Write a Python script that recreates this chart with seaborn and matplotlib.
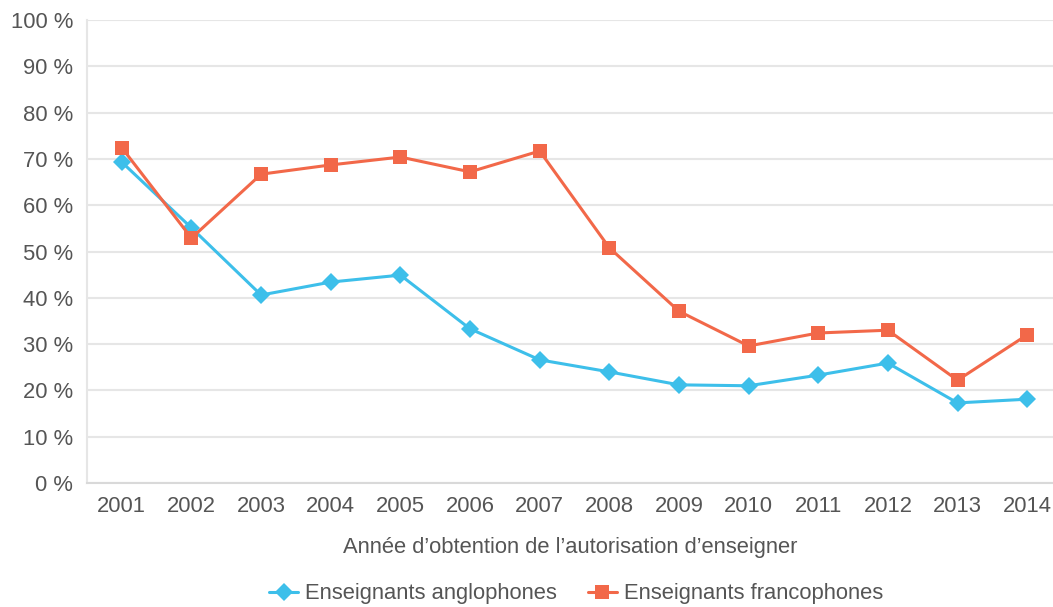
import seaborn as sns
import matplotlib.pyplot as plt
import pandas as pd

# Data
years = ['2001', '2002', '2003', '2004', '2005', '2006', '2007',
         '2008', '2009', '2010', '2011', '2012', '2013', '2014']
anglophones = [69.3, 55.1, 40.6, 43.4, 44.9, 33.3, 26.6,
               24.0, 21.2, 21.0, 23.3, 25.9, 17.3, 18.1]
francophones = [72.4, 52.9, 66.7, 68.7, 70.4, 67.2, 71.7,
                50.8, 37.1, 29.6, 32.4, 33.0, 22.2, 32.0]
series_names = ['Enseignants anglophones', 'Enseignants francophones']

df = pd.DataFrame({
    'idx': list(range(len(years))) * 2,
    'value': anglophones + francophones,
    'series': [series_names[0]] * len(years) + [series_names[1]] * len(years),
})

sns.set_style('white')
plt.rcParams['font.family'] = ['Liberation Sans', 'DejaVu Sans']

text_color = '#555555'
grid_color = '#e6e6e6'
colors = {series_names[0]: '#3dbfea', series_names[1]: '#f26849'}
fs = 15.8

fig = plt.figure(figsize=(10.53, 6.07), dpi=100)
ax = fig.add_axes([87 / 1053, 1 - 483 / 607, 975 / 1053, 463 / 607])

sns.lineplot(data=df, x='idx', y='value', hue='series', style='series',
             markers={series_names[0]: 'D', series_names[1]: 's'},
             dashes=False, palette=colors, linewidth=2.2, markersize=9.5,
             markeredgewidth=0, ax=ax, legend=False)

ax.set_xlim(-0.5, len(years) - 0.5)
ax.set_ylim(0, 100)
ax.set_yticks(range(0, 101, 10))
ax.set_yticklabels([f'{v} %' for v in range(0, 101, 10)])
ax.set_xticks(range(len(years)))
ax.set_xticklabels(years)
ax.set_xticks([i - 0.5 for i in range(len(years) + 1)], minor=True)

ax.grid(axis='y', color=grid_color, linewidth=1.5)
ax.set_axisbelow(True)
for side in ['top', 'right']:
    ax.spines[side].set_visible(False)
ax.spines['left'].set_color(grid_color)
ax.spines['left'].set_linewidth(1.5)
ax.spines['bottom'].set_color('#d9d9d9')
ax.spines['bottom'].set_linewidth(1.5)

ax.tick_params(axis='y', which='major', length=7, color=grid_color, width=1.5,
               labelsize=fs, labelcolor=text_color, pad=3)
ax.tick_params(axis='x', which='major', length=0, labelsize=fs,
               labelcolor=text_color, pad=9)
ax.tick_params(axis='x', which='minor', length=6, color='#d9d9d9', width=1.5)

ax.set_xlabel('Année d’obtention de l’autorisation d’enseigner',
              fontsize=fs, color=text_color, va='center')
ax.xaxis.set_label_coords((570 - 87) / 975, -(548 - 483) / 463)
ax.set_ylabel('')

handles = [plt.Line2D([], [], color=colors[n], marker=m, markersize=9.5,
                      markeredgewidth=0, linewidth=2.2)
           for n, m in zip(series_names, ['D', 's'])]
fig.legend(handles, series_names, loc='center', bbox_to_anchor=(576 / 1053, 1 - 594 / 607),
           ncol=2, frameon=False, fontsize=fs, labelcolor=text_color,
           handlelength=1.35, handletextpad=0.3, columnspacing=1.4)

fig.savefig('out.png', dpi=100)
